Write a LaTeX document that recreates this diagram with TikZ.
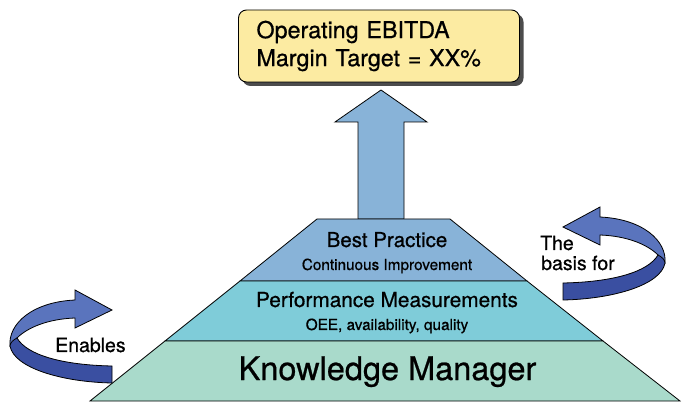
\documentclass[tikz,border=0pt]{standalone}
\usepackage{fontspec}
\setmainfont{TeX Gyre Heros}[FakeBold=0.7]
\usetikzlibrary{shadows}

\definecolor{boxyellow}{HTML}{FCEBA2}
\definecolor{topblue}{HTML}{88B3D8}
\definecolor{midcyan}{HTML}{7FCCD9}
\definecolor{basemint}{HTML}{A9DACB}
\definecolor{turnlight}{HTML}{5A74BD}
\definecolor{turndark}{HTML}{3A4FA1}

\tikzset{
  bentarrow/.pic={
    \filldraw[fill=turnlight,line width=0.8pt] (0,0) -- (37,-20) -- (37,-10) .. controls (80,-8) and (104,14) .. (102,36)
      -- (95,28) .. controls (85,18) and (65,9) .. (37,8) -- (37,18) -- cycle;
    \filldraw[fill=turndark,line width=0.8pt] (0,56) .. controls (50,55) and (85,45) .. (95,28)
      .. controls (99,30) and (102,33) .. (102,36) .. controls (98,58) and (50,72) .. (0,73) -- cycle;
  }
}

\begin{document}
\begin{tikzpicture}[x=1pt,y=-1pt]
  \useasboundingbox (0,0) rectangle (688,403);

  \node[draw,rounded corners=8pt,fill=boxyellow,line width=0.9pt,
        drop shadow={shadow xshift=4pt,shadow yshift=-4pt,fill=black!70,opacity=1},
        minimum width=281pt,minimum height=72pt,text width=245pt,align=left,
        font=\fontsize{23.3}{28}\selectfont] (T) at (379,46) {\raisebox{-3pt}{Operating EBITDA}\\\raisebox{-3pt}{Margin Target = XX\%}};

  \filldraw[fill=topblue,line width=0.8pt] (381,90) -- (427,122) -- (404,122) -- (404,219) -- (358,219) -- (358,122) -- (335,122) -- cycle;

  \filldraw[fill=topblue,line width=0.8pt] (317,219) -- (450,219) -- (527,281) -- (240,281) -- cycle;
  \filldraw[fill=midcyan,line width=0.8pt] (240,281) -- (527,281) -- (603,341) -- (165,341) -- cycle;
  \filldraw[fill=basemint,line width=0.8pt] (165,341) -- (603,341) -- (680,401) -- (90,401) -- cycle;

  \node[anchor=base,font=\fontsize{20.5}{24}\selectfont] (BP) at (387,247) {Best Practice};
  \node[anchor=base,font=\fontsize{15.3}{18}\selectfont] (CI) at (387,270) {Continuous Improvement};
  \node[anchor=base,font=\fontsize{20.8}{24}\selectfont] (PM) at (387,307) {Performance Measurements};
  \node[anchor=base,font=\fontsize{15.3}{18}\selectfont] (OEE) at (387,330) {OEE, availability, quality};
  \node[anchor=base,font=\fontsize{32.5}{36}\selectfont] (KM) at (387.5,380) {Knowledge Manager};

  \pic at (563,227) {bentarrow};
  \pic[xscale=-1] at (112,310) {bentarrow};

  \node[anchor=base west,inner sep=0,font=\fontsize{19.5}{20}\selectfont] (The) at (540,250) {The};
  \node[anchor=base west,inner sep=0,font=\fontsize{19.5}{20}\selectfont] (basis) at (541,270) {basis for};
  \node[anchor=base west,inner sep=0,font=\fontsize{19.5}{20}\selectfont] (E) at (55,352) {Enables};

\end{tikzpicture}
\end{document}
